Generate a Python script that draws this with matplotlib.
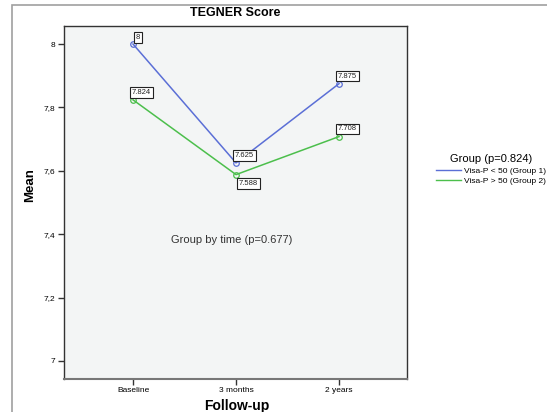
import matplotlib
matplotlib.use("Agg")
import matplotlib.pyplot as plt
from matplotlib.patches import Rectangle
from matplotlib.ticker import FixedLocator

plt.rcParams['font.family'] = ['Liberation Sans', 'DejaVu Sans']

categories = ["Baseline", "3 months", "2 years"]
group1 = [8.0, 7.625, 7.875]
group2 = [7.824, 7.588, 7.708]
group1_labels = ["8", "7.625", "7.875"]
group2_labels = ["7.824", "7.588", "7.708"]
series_names = ["Visa-P < 50 (Group 1)", "Visa-P > 50 (Group 2)"]
yticks = [7.0, 7.2, 7.4, 7.6, 7.8, 8.0]
ytick_labels = ["7", "7,2", "7,4", "7,6", "7,8", "8"]

W, H = 547, 412
fig = plt.figure(figsize=(W / 100, H / 100), dpi=100)
fig.patch.set_facecolor("white")

# outer frame
fig.patches.append(Rectangle((12 / W, -0.05), 1.2, 1 - 5 / H + 0.05, transform=fig.transFigure,
                             fill=False, edgecolor="#a0a0a0", linewidth=1.2))

ax = fig.add_axes([64 / W, 1 - 379 / H, (407 - 64) / W, (379 - 26) / H])
ax.set_facecolor("#f3f5f5")

x = list(range(len(categories)))
blue = "#5b6fd6"
green = "#4cbf4c"
l1, = ax.plot(x, group1, color=blue, lw=1.1, marker="o", ms=4, mfc="none", mec=blue, mew=0.9)
l2, = ax.plot(x, group2, color=green, lw=1.1, marker="o", ms=4, mfc="none", mec=green, mew=0.9)

box = dict(boxstyle="square,pad=0.25", fc="white", ec="#222222", lw=0.8)
offsets1 = [(2, 2), (-1, 3), (-1, 3)]
offsets2 = [(-1, 3), (2, -4), (-1, 3)]
for xi, yi, lab, off in zip(x, group1, group1_labels, offsets1):
    ax.annotate(lab, (xi, yi), xytext=off, textcoords="offset points", fontsize=5.5,
                ha="left", va="bottom", bbox=box, color="#222222")
for xi, yi, lab, off in zip(x, group2, group2_labels, offsets2):
    ax.annotate(lab, (xi, yi), xytext=off, textcoords="offset points", fontsize=5.5,
                ha="left", va="top" if off[1] < 0 else "bottom", bbox=box, color="#222222")

ax.text(0.96, 7.381, "Group by time (p=0.677)", fontsize=8, ha="center", va="center", color="#333333")

ax.set_xlim(-0.67, 2.66)
ax.set_ylim(6.943, 8.057)
ax.set_xticks(x)
ax.set_xticklabels(categories, fontsize=6)
ax.yaxis.set_major_locator(FixedLocator(yticks))
ax.set_yticklabels(ytick_labels, fontsize=6)
ax.tick_params(axis="both", direction="out", length=4, width=1, color="#333333", pad=2)

for s in ["top", "right", "left"]:
    ax.spines[s].set_color("#333333")
    ax.spines[s].set_linewidth(1.0)
ax.spines["bottom"].set_color("#777777")
ax.spines["bottom"].set_linewidth(1.5)

fig.text(235 / W, 1 - 13 / H, "TEGNER Score", fontsize=9, fontweight="bold", ha="center", va="center")
fig.text(30 / W, 1 - 185 / H, "Mean", fontsize=9.5, fontweight="bold", rotation=90, ha="center", va="center")
fig.text(237 / W, 1 - 406 / H, "Follow-up", fontsize=10, fontweight="bold", ha="center", va="center")

leg = fig.legend([l1, l2], series_names, loc="upper left",
                 bbox_to_anchor=(432 / W, 1 - 150 / H), frameon=False, fontsize=6,
                 title="Group (p=0.824)", title_fontsize=8, handlelength=3,
                 handletextpad=0.4, labelspacing=0.3, borderpad=0)
for h in leg.legend_handles:
    h.set_marker("")
    h.set_linewidth(1.0)

fig.savefig("out.png", dpi=100)
